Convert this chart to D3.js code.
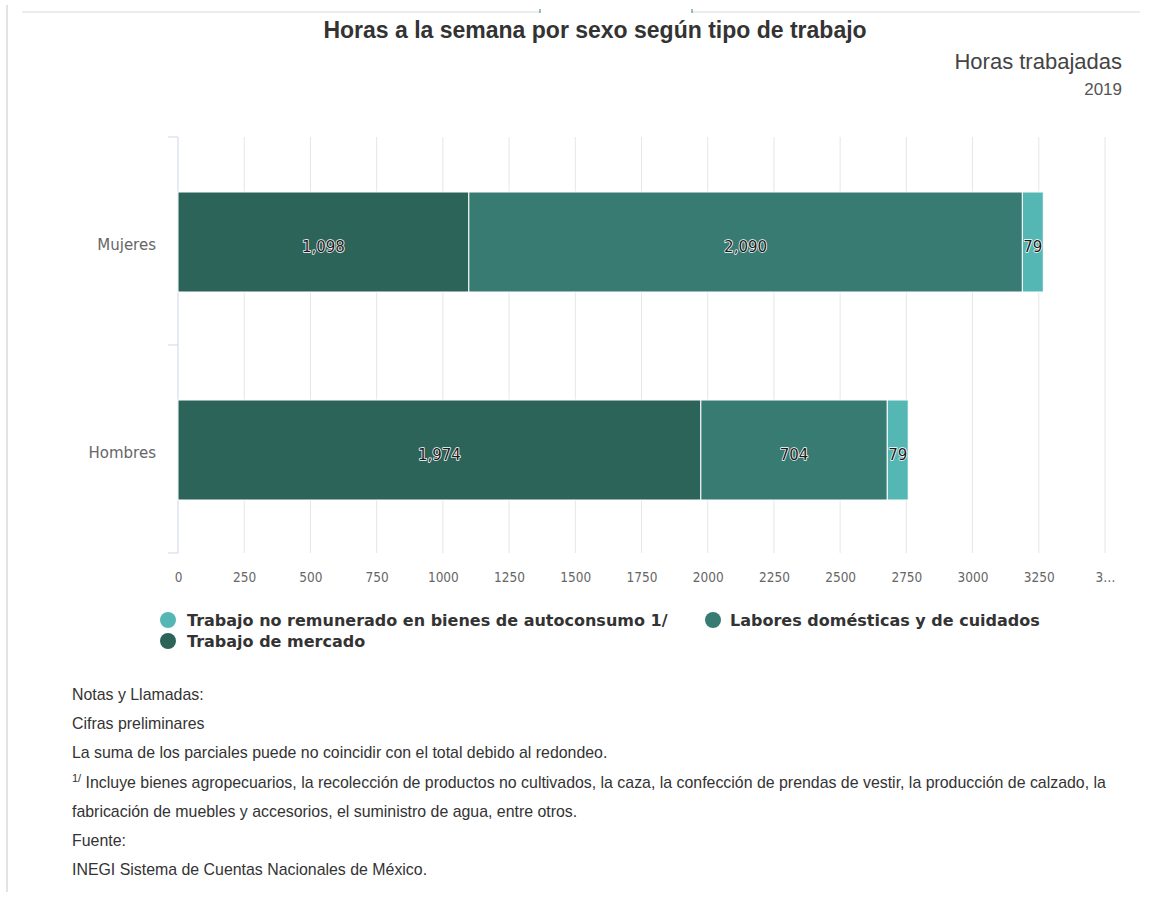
<!DOCTYPE html>
<html>
<head>
<meta charset="utf-8">
<script src="https://cdn.jsdelivr.net/npm/d3@7"></script>
<style>
  body { margin: 0; background: #fff; }
  svg { display: block; }
</style>
</head>
<body>
<div class="wrapper"></div>
<script>
var categories = ["Mujeres", "Hombres"];
var seriesNames = [
  "Trabajo de mercado",
  "Labores domésticas y de cuidados",
  "Trabajo no remunerado en bienes de autoconsumo 1/"
];
var mercado = [1098, 1974];
var domesticas = [2090, 704];
var autoconsumo = [79, 79];
var xTicks = [0, 250, 500, 750, 1000, 1250, 1500, 1750, 2000, 2250, 2500, 2750, 3000, 3250, 3500];
var legendOrder = [2, 1, 0];
var notes = [
  "Notas y Llamadas:",
  "Cifras preliminares",
  "La suma de los parciales puede no coincidir con el total debido al redondeo.",
  "Incluye bienes agropecuarios, la recolección de productos no cultivados, la caza, la confección de prendas de vestir, la producción de calzado, la",
  "fabricación de muebles y accesorios, el suministro de agua, entre otros.",
  "Fuente:",
  "INEGI Sistema de Cuentas Nacionales de México."
];

var colors = ["#2c6459", "#387b73", "#55b7b4"];
var width = 1174, height = 897;
var margin = { top: 137, right: 69, bottom: 344, left: 178 };

var svg = d3.select(".wrapper").append("svg")
  .attr("width", width)
  .attr("height", height);

// frame lines
svg.append("line").attr("x1", 7).attr("x2", 7).attr("y1", 5).attr("y2", 892)
  .style("stroke", "#e3e3e3").style("stroke-width", 2);
svg.append("line").attr("x1", 22).attr("x2", 540).attr("y1", 12).attr("y2", 12)
  .style("stroke", "#d8dcdc");
svg.append("line").attr("x1", 692).attr("x2", 1140).attr("y1", 12).attr("y2", 12)
  .style("stroke", "#d8dcdc");
[540, 692].forEach(function(x) {
  svg.append("line").attr("x1", x).attr("x2", x).attr("y1", 9).attr("y2", 13)
    .style("stroke", "#3d8078");
});

// titles
svg.append("text").attr("x", 595).attr("y", 38)
  .attr("text-anchor", "middle")
  .style("font-family", "Liberation Sans, Arial, sans-serif")
  .style("font-size", "23px").style("font-weight", "bold").style("fill", "#333")
  .text("Horas a la semana por sexo según tipo de trabajo");
svg.append("text").attr("x", 1122).attr("y", 69)
  .attr("text-anchor", "end")
  .style("font-family", "Liberation Sans, Arial, sans-serif")
  .style("font-size", "22px").style("fill", "#444")
  .text("Horas trabajadas");
svg.append("text").attr("x", 1122).attr("y", 95)
  .attr("text-anchor", "end")
  .style("font-family", "Liberation Sans, Arial, sans-serif")
  .style("font-size", "17px").style("fill", "#555")
  .text("2019");

var plotBottom = height - margin.bottom;
var x = d3.scaleLinear().domain([0, 3500]).range([margin.left, 1105]);
var y = d3.scaleBand().domain(categories).range([margin.top, plotBottom]).paddingInner(0).paddingOuter(0);

// gridlines
svg.append("g").selectAll("line").data(xTicks.slice(1)).enter().append("line")
  .attr("x1", function(d) { return x(d); }).attr("x2", function(d) { return x(d); })
  .attr("y1", margin.top).attr("y2", plotBottom)
  .style("stroke", "#e6e6e6").style("stroke-width", 1);

// x tick labels
var xAxis = svg.append("g")
  .attr("transform", "translate(0," + (plotBottom + 5) + ")")
  .call(d3.axisBottom(x).tickValues(xTicks).tickSize(0).tickPadding(14)
    .tickFormat(function(d) { return d === 3500 ? "3…" : String(d); }));
xAxis.select(".domain").remove();
xAxis.selectAll("text")
  .style("font-family", "DejaVu Sans Condensed, DejaVu Sans, sans-serif")
  .style("font-stretch", "condensed")
  .style("font-size", "13.5px").style("fill", "#666");

// y axis
var yAxis = svg.append("g")
  .attr("transform", "translate(" + margin.left + ",0)")
  .call(d3.axisLeft(y).tickSize(0).tickPadding(22));
yAxis.select(".domain").style("stroke", "#ccd6eb");
yAxis.selectAll(".tick text")
  .attr("dy", "0.6em")
  .style("font-family", "DejaVu Sans, sans-serif")
  .style("font-size", "15px").style("fill", "#666");
var yTickPos = [margin.top, margin.top + y.bandwidth(), plotBottom];
yAxis.selectAll(".ytick").data(yTickPos).enter().append("line")
  .attr("x1", -10).attr("x2", 0)
  .attr("y1", function(d) { return d; }).attr("y2", function(d) { return d; })
  .style("stroke", "#ccd6eb");
yAxis.select(".domain").attr("d", "M0," + margin.top + "V" + plotBottom);

// stacked bars
var rows = categories.map(function(c, i) {
  return { cat: c, s0: mercado[i], s1: domesticas[i], s2: autoconsumo[i] };
});
var stack = d3.stack().keys(["s0", "s1", "s2"]);
var stacked = stack(rows);
var barH = 100;

var layers = svg.append("g").selectAll("g").data(stacked).enter().append("g")
  .style("fill", function(d, i) { return colors[i]; });

layers.selectAll("rect").data(function(d) { return d; }).enter().append("rect")
  .attr("x", function(d) { return x(d[0]); })
  .attr("width", function(d) { return x(d[1]) - x(d[0]); })
  .attr("y", function(d) { return y(d.data.cat) + (y.bandwidth() - barH) / 2 + 1; })
  .attr("height", barH)
  .style("stroke", "#fff").style("stroke-width", 1);

layers.selectAll("text").data(function(d) { return d; }).enter().append("text")
  .attr("x", function(d) { return (x(d[0]) + x(d[1])) / 2; })
  .attr("y", function(d) { return y(d.data.cat) + y.bandwidth() / 2 + 11; })
  .attr("text-anchor", "middle")
  .style("font-family", "DejaVu Sans, sans-serif")
  .style("font-size", "15px")
  .style("fill", "#1a1a1a")
  .style("stroke", "#fff").style("stroke-width", 1.5).style("stroke-linejoin", "round")
  .style("paint-order", "stroke")
  .text(function(d) { return d3.format(",")(d[1] - d[0]); });

// legend
var legendPos = [[168, 620, 19], [713, 620, 17], [168, 641, 19]];
var legend = svg.append("g").selectAll("g").data(legendOrder).enter().append("g")
  .attr("transform", function(d, i) { return "translate(" + legendPos[i][0] + "," + legendPos[i][1] + ")"; });
legend.append("circle").attr("r", 8).attr("cx", 0).attr("cy", 0)
  .style("fill", function(d) { return colors[d]; });
legend.append("text").attr("x", function(d, i) { return legendPos[i][2]; }).attr("y", 6)
  .style("font-family", "DejaVu Sans, sans-serif")
  .style("font-size", "16px").style("font-weight", "bold").style("fill", "#333")
  .text(function(d) { return seriesNames[d]; });

// notes
var notesG = svg.append("g").style("font-family", "Liberation Sans, Arial, sans-serif")
  .style("font-size", "15.9px").style("fill", "#333");
notes.forEach(function(t, i) {
  var tx = notesG.append("text").attr("x", 72).attr("y", 700 + i * 29.2);
  if (i === 3) {
    tx.append("tspan").attr("dy", -6).style("font-size", "11px").text("1/");
    tx.append("tspan").attr("dy", 6).text(" " + t);
  } else {
    tx.text(t);
  }
});
</script>
</body>
</html>
